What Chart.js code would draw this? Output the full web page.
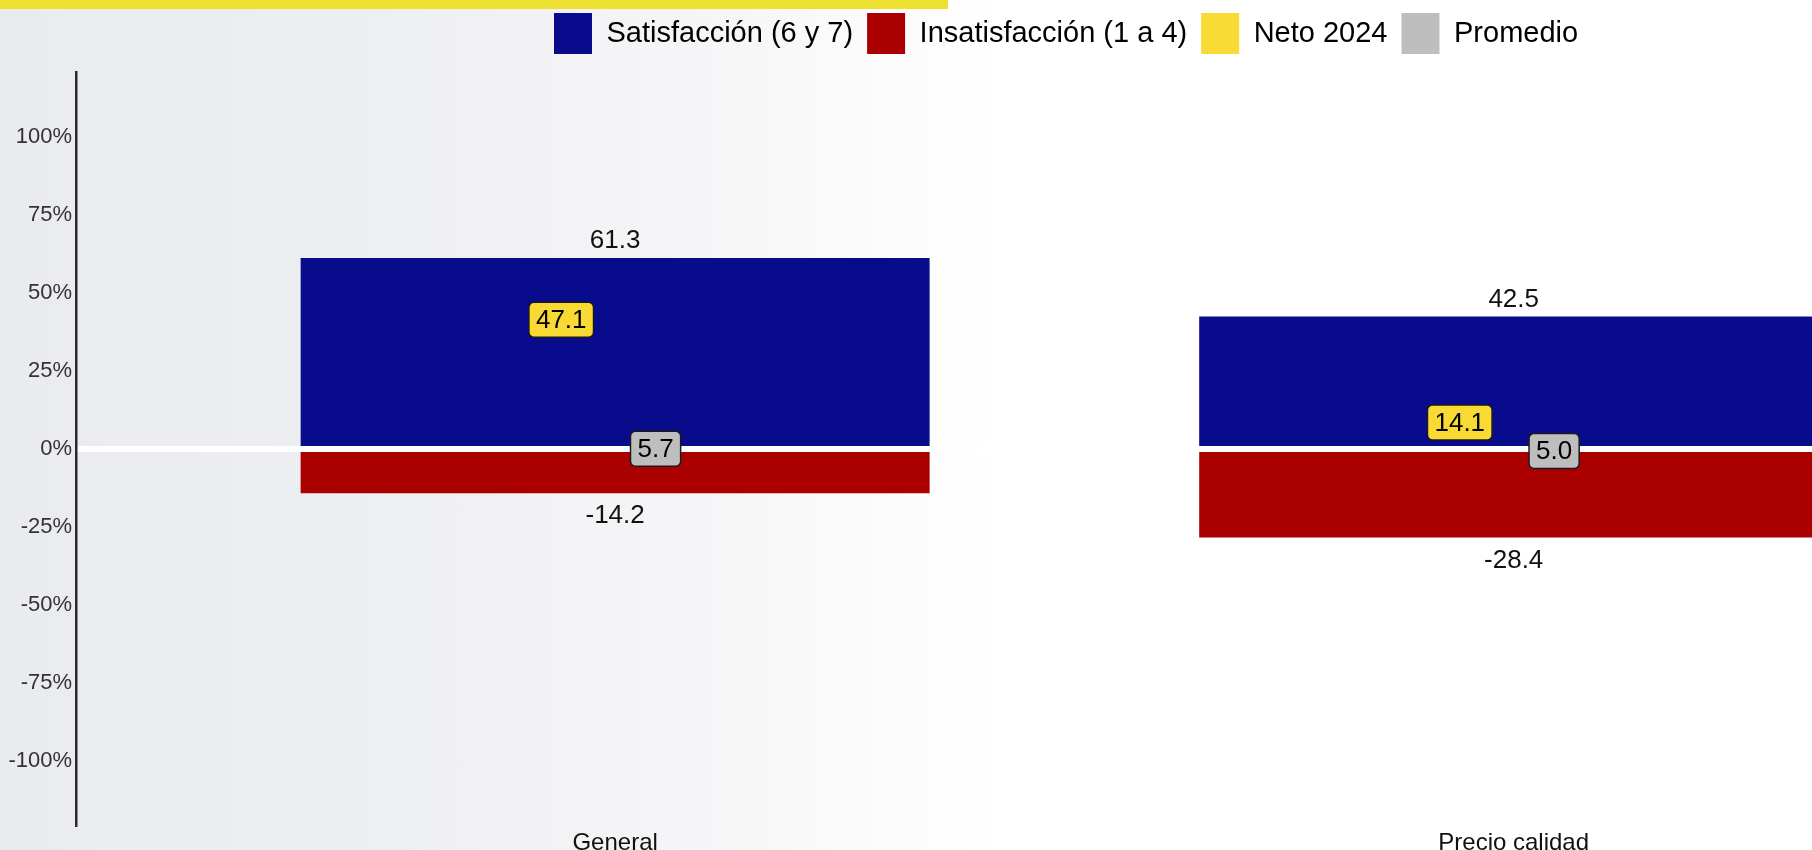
<!DOCTYPE html>
<html lang="es">
<head>
<meta charset="utf-8">
<title>Satisfacción</title>
<script src="https://cdn.jsdelivr.net/npm/chart.js@4.4.1/dist/chart.umd.min.js"></script>
<style>
  html, body { margin: 0; padding: 0; overflow: hidden; }
  body {
    width: 1812px;
    height: 850px;
    position: relative;
    background: linear-gradient(to right, #eaebef 0px, #edeef1 320px, #f5f5f7 680px, #fdfdfd 930px, #ffffff 1000px);
  }
  #topBar { position: absolute; left: 0; top: 0; width: 948px; height: 9px; background: #ece030; }
  #wrap { position: absolute; left: 0; top: 0; width: 1812px; height: 850px; }
</style>
</head>
<body>
<div id="wrap"><canvas id="chart1" width="1812" height="850"></canvas></div>
<div id="topBar"></div>
<script>
/* DATOS */
var categories = ['General', 'Precio calidad'];
var satisfaction = [61.3, 42.5];
var dissatisfaction = [-14.2, -28.4];
var neto2024 = [47.1, 14.1];
var promedio = [5.7, 5.0];
var yTickValues = [-100, -75, -50, -25, 0, 25, 50, 75, 100];
var legendNames = ['Satisfacción (6 y 7)', 'Insatisfacción (1 a 4)', 'Neto 2024', 'Promedio'];

var BLUE = '#070b8c';
var RED = '#aa0000';
var YELLOW = '#f9da34';
var GRAY = '#bebebe';
var legendColors = [BLUE, RED, YELLOW, GRAY];
var FONT = '"Liberation Sans", Arial, sans-serif';

// dibuja una etiqueta con caja redondeada, la parte de arriba en el valor
function drawBox(ctx, text, cx, top, fill) {
    ctx.font = '26px ' + FONT;
    var w = ctx.measureText(text).width + 14;
    var h = 35;
    var left = cx - w / 2;
    ctx.beginPath();
    ctx.roundRect(left, top, w, h, 5);
    ctx.fillStyle = fill;
    ctx.fill();
    ctx.lineWidth = 1.5;
    ctx.strokeStyle = '#1a1a1a';
    ctx.stroke();
    ctx.fillStyle = '#000000';
    ctx.textAlign = 'center';
    ctx.textBaseline = 'middle';
    ctx.fillText(text, cx, top + h / 2 + 1);
}

// linea del cero y etiquetas
var valueLabels = {
    id: 'valueLabels',
    afterDatasetsDraw: function(chart) {
        var ctx = chart.ctx;
        var xs = chart.scales.x;
        var ys = chart.scales.y;
        var area = chart.chartArea;
        var y0 = ys.getPixelForValue(0);
        ctx.save();
        ctx.strokeStyle = '#ffffff';
        ctx.lineWidth = 6;
        ctx.beginPath();
        ctx.moveTo(area.left + 2, y0);
        ctx.lineTo(area.right, y0);
        ctx.stroke();

        for (var i = 0; i < categories.length; i++) {
            var cx = xs.getPixelForValue(i + 1);
            ctx.font = '26px ' + FONT;
            ctx.fillStyle = '#111111';
            ctx.textAlign = 'center';
            ctx.textBaseline = 'middle';
            ctx.fillText(satisfaction[i].toFixed(1), cx, ys.getPixelForValue(satisfaction[i]) - 17);
            ctx.fillText(dissatisfaction[i].toFixed(1), cx, ys.getPixelForValue(dissatisfaction[i]) + 23);
            drawBox(ctx, neto2024[i].toFixed(1), xs.getPixelForValue(i + 1 - 0.06), ys.getPixelForValue(neto2024[i]), YELLOW);
            drawBox(ctx, promedio[i].toFixed(1), xs.getPixelForValue(i + 1 + 0.045), ys.getPixelForValue(promedio[i]), GRAY);
        }
        ctx.restore();
    }
};

// leyenda: alto fijo y movida a la derecha
var legendPlacer = {
    id: 'legendPlacer',
    beforeUpdate: function(chart) {
        var legend = chart.legend;
        if (legend && !legend._fixedFit) {
            var fit = legend.fit;
            legend.fit = function() {
                fit.call(this);
                this.height = 72;
            };
            legend._fixedFit = true;
        }
    },
    afterLayout: function(chart) {
        var legend = chart.legend;
        var pad = legend.options.labels.padding;
        var lw = legend.lineWidths ? legend.lineWidths[0] : 0;
        var start = (legend.left + pad + legend.right - lw) / 2;
        var dx = 554 - start;
        legend.left += dx;
        legend.right += dx;
        legend.top -= 1;
        legend.bottom -= 1;
    }
};

var ctx1 = document.getElementById('chart1').getContext('2d');
var chart1 = new Chart(ctx1, {
    type: 'bar',
    data: {
        datasets: [{
            label: legendNames[0],
            data: categories.map(function(c, i) { return {x: i + 1, y: satisfaction[i]}; }),
            backgroundColor: BLUE,
            grouped: false,
            barPercentage: 0.7,
            categoryPercentage: 1
        }, {
            label: legendNames[1],
            data: categories.map(function(c, i) { return {x: i + 1, y: dissatisfaction[i]}; }),
            backgroundColor: RED,
            grouped: false,
            barPercentage: 0.7,
            categoryPercentage: 1
        }]
    },
    options: {
        responsive: false,
        animation: false,
        devicePixelRatio: 1,
        layout: { padding: 0 },
        scales: {
            x: {
                type: 'linear',
                offset: false,
                bounds: 'data',
                min: 0.4,
                max: 2.332,
                afterBuildTicks: function(scale) {
                    scale.ticks = categories.map(function(c, i) { return {value: i + 1}; });
                },
                afterFit: function(scale) { scale.height = 24; },
                grid: { display: false, offset: false },
                border: { display: false },
                ticks: {
                    padding: -5,
                    autoSkip: false,
                    maxRotation: 0,
                    color: '#111111',
                    font: { family: FONT, size: 24 },
                    callback: function(v) { return categories[v - 1] || ''; }
                }
            },
            y: {
                min: -121,
                max: 121,
                afterBuildTicks: function(scale) {
                    scale.ticks = yTickValues.map(function(v) { return {value: v}; });
                },
                afterFit: function(scale) { scale.width = 76; },
                grid: { display: false, drawTicks: false },
                border: { display: true, color: '#2b2b2b', width: 2.5 },
                ticks: {
                    padding: 4,
                    color: '#333333',
                    font: { family: FONT, size: 22 },
                    callback: function(v) { return v + '%'; }
                }
            }
        },
        plugins: {
            tooltip: { enabled: false },
            legend: {
                position: 'top',
                labels: {
                    boxWidth: 38,
                    boxHeight: 41,
                    padding: 14,
                    color: '#111111',
                    font: { family: FONT, size: 29 },
                    generateLabels: function() {
                        return legendNames.map(function(name, i) {
                            return {
                                text: name,
                                fillStyle: legendColors[i],
                                strokeStyle: legendColors[i],
                                lineWidth: 0,
                                hidden: false,
                                datasetIndex: i
                            };
                        });
                    }
                }
            }
        }
    },
    plugins: [legendPlacer, valueLabels]
});
</script>
</body>
</html>
